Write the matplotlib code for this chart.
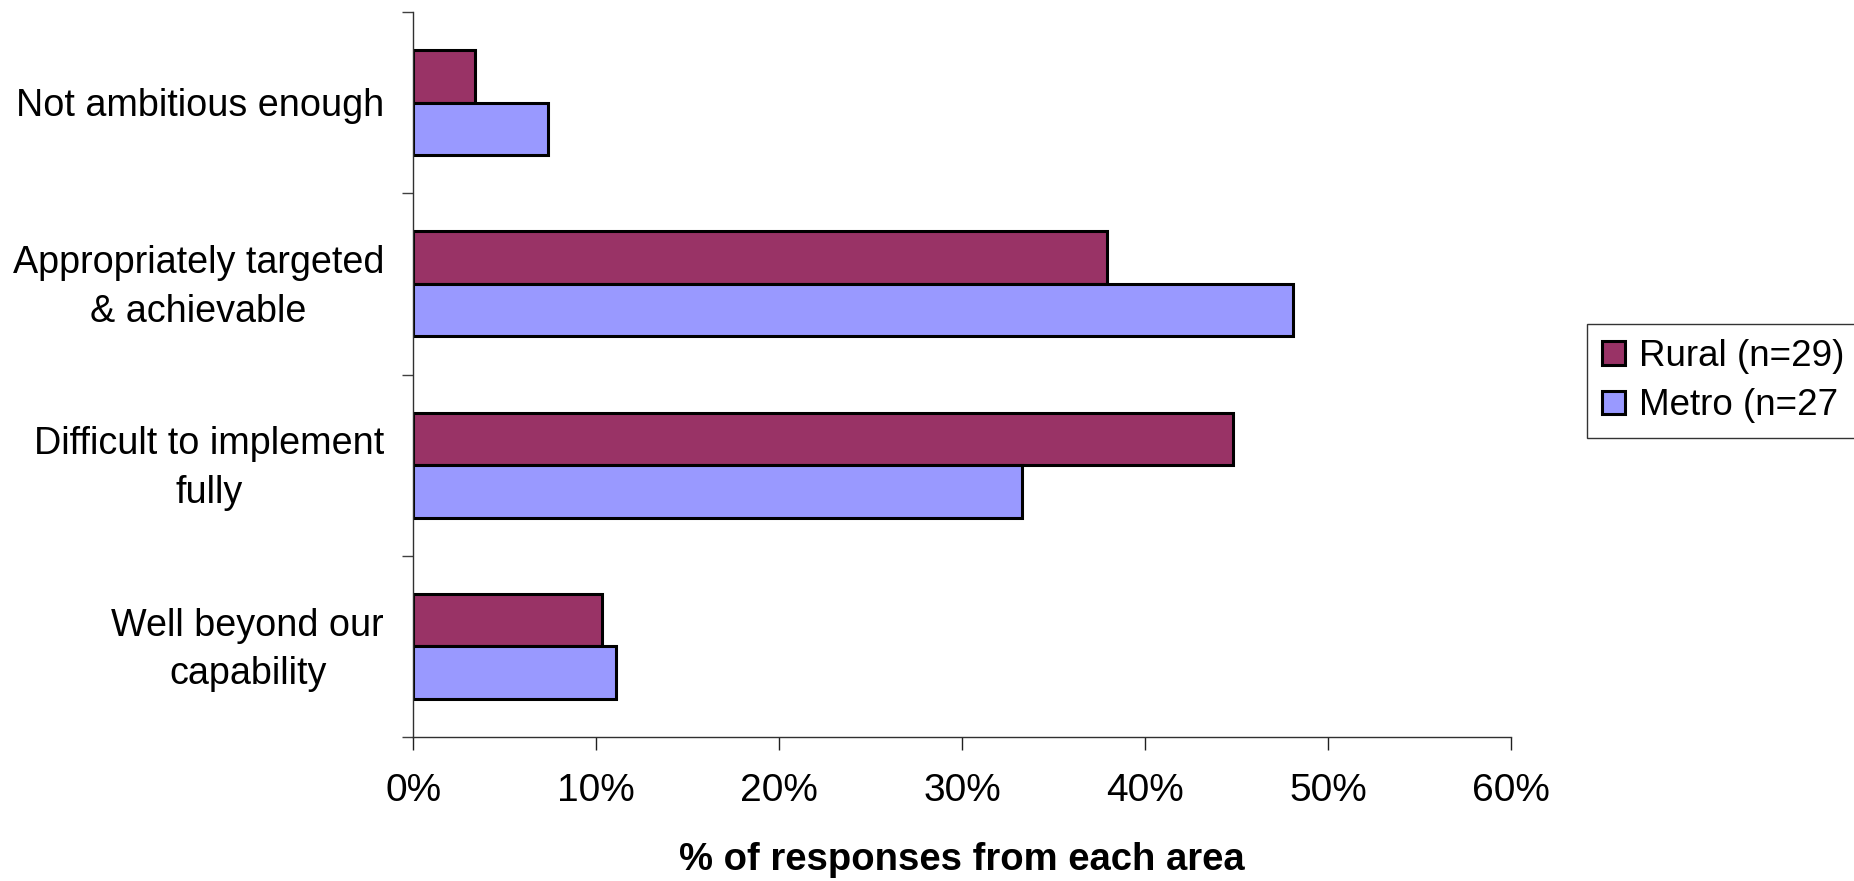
import numpy as np
import matplotlib
matplotlib.use('Agg')
import matplotlib.pyplot as plt
from matplotlib.ticker import FixedLocator, PercentFormatter

plt.rcParams['font.family'] = ['Liberation Sans', 'DejaVu Sans']

categories = ['Not ambitious enough',
              'Appropriately targeted\n& achievable',
              'Difficult to implement\nfully',
              'Well beyond our\ncapability']
rural = [3.4, 37.9, 44.8, 10.3]
metro = [7.4, 48.1, 33.3, 11.1]
series_names = ['Rural (n=29)', 'Metro (n=27']
colors = ['#993366', '#9999FF']
x_ticks = [0, 10, 20, 30, 40, 50, 60]

fig = plt.figure(figsize=(18.54, 8.81), dpi=100)
ax = fig.add_axes([0.2228, 0.1634, 0.815 - 0.2228, 0.9864 - 0.1634])

y = np.arange(len(categories))
h = 0.29
ax.barh(y - h / 2, rural, height=h, color=colors[0], edgecolor='black',
        linewidth=2.2, label=series_names[0])
ax.barh(y + h / 2, metro, height=h, color=colors[1], edgecolor='black',
        linewidth=2.2, label=series_names[1])

ax.set_ylim(len(categories) - 0.5, -0.5)
ax.set_xlim(0, 60)

# major ticks are hidden, nudged slightly so the labels sit like the original
ax.set_yticks(y + 0.02)
ax.set_yticklabels(categories, fontsize=27.2, multialignment='center',
                   linespacing=1.45, va='center')
ax.yaxis.set_minor_locator(FixedLocator(np.arange(-0.5, len(categories), 1)))
ax.tick_params(axis='y', which='major', length=0, pad=21)
ax.tick_params(axis='y', which='minor', length=8, width=1, color='#404040',
               direction='out')

ax.set_xticks(x_ticks)
ax.xaxis.set_major_formatter(PercentFormatter(decimals=0))
ax.tick_params(axis='x', length=9, width=1, color='#202020', direction='out',
               labelsize=28, pad=17)
ax.set_xlabel('% of responses from each area', fontsize=27.5,
              fontweight='bold', labelpad=24)

for side in ['top', 'right']:
    ax.spines[side].set_visible(False)
for side in ['left', 'bottom']:
    ax.spines[side].set_color('#303030')
    ax.spines[side].set_linewidth(1)

leg = fig.legend(loc='center left', bbox_to_anchor=(0.856, 0.5675),
                 fontsize=26.5, frameon=True, fancybox=False, edgecolor='black',
                 handlelength=0.62, handleheight=0.62, handletextpad=0.4,
                 borderpad=0.4, labelspacing=0.4, borderaxespad=0)
leg.get_frame().set_linewidth(1)

fig.savefig('out.png', dpi=100)
